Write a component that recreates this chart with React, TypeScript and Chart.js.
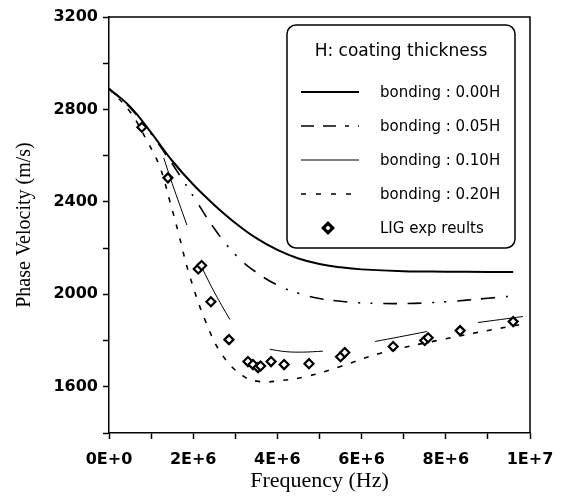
import React, { useEffect, useRef } from "react";
import { Chart, registerables } from "chart.js";
Chart.register(...registerables);

// ---- data ----
const freqB000 = [0, 0.5e6, 1e6, 1.5e6, 2e6, 2.5e6, 3e6, 3.5e6, 4e6, 4.5e6, 5e6, 5.5e6, 6e6, 7e6, 8e6, 9e6, 9.6e6];
const velB000 = [2890, 2812, 2700, 2578, 2475, 2387, 2309, 2243, 2192, 2155, 2131, 2117, 2108, 2100, 2098, 2097, 2097];

const freqB005 = [0, 0.5e6, 1e6, 1.5e6, 2e6, 2.5e6, 3e6, 3.5e6, 4e6, 4.5e6, 5e6, 5.5e6, 6e6, 7e6, 8e6, 9e6, 9.6e6];
const velB005 = [2890, 2808, 2695, 2565, 2425, 2285, 2172, 2095, 2040, 2005, 1982, 1970, 1963, 1960, 1968, 1983, 1993];

// 0.10H curve is drawn in separate pieces (null = gap)
const freqB010 = [1.3e6, 1.5e6, 1.85e6, 2.0e6, 2.23e6, 2.5e6, 2.87e6, 3.3e6, 3.82e6, 4.2e6, 4.6e6, 5.08e6, 5.7e6, 6.32e6, 6.9e6, 7.55e6, 8.2e6, 8.76e6, 9.3e6, 9.83e6];
const velB010 = [2590, 2480, 2300, null, 2107, 2010, 1891, null, 1762, 1752, 1750, 1754, null, 1796, 1816, 1839, null, 1878, 1891, 1904];

const freqB020 = [0, 0.5e6, 0.9e6, 1.2e6, 1.45e6, 1.65e6, 1.9e6, 2.3e6, 2.7e6, 3.2e6, 3.6e6, 4.0e6, 4.7e6, 5.5e6, 6.5e6, 7.9e6, 9.1e6, 9.8e6];
const velB020 = [2890, 2790, 2665, 2555, 2400, 2265, 2090, 1880, 1735, 1645, 1622, 1625, 1645, 1688, 1748, 1804, 1847, 1870];

const expFreq = [0.78e6, 1.4e6, 2.12e6, 2.2e6, 2.42e6, 2.85e6, 3.3e6, 3.42e6, 3.54e6, 3.6e6, 3.85e6, 4.16e6, 4.75e6, 5.5e6, 5.6e6, 6.75e6, 7.5e6, 7.58e6, 8.34e6, 9.6e6];
const expVel = [2723, 2504, 2110, 2125, 1968, 1804, 1709, 1696, 1683, 1690, 1709, 1696, 1700, 1730, 1748, 1774, 1800, 1812, 1843, 1882];

const xLabelValues = [0, 2e6, 4e6, 6e6, 8e6, 1e7];
const xTickLabels = ["0E+0", "2E+6", "4E+6", "6E+6", "8E+6", "1E+7"];
const yLabelValues = [1600, 2000, 2400, 2800, 3200];

const legendTitle = "H: coating thickness";
const legendLabels = ["bonding : 0.00H", "bonding : 0.05H", "bonding : 0.10H", "bonding : 0.20H", "LIG exp reults"];

const toPts = (xs: number[], ys: (number | null)[]) => xs.map((x, i) => ({ x, y: ys[i] }));

const DASH_005 = [14, 10, 14, 11, 2, 10, 2, 11];
const DASH_020 = [5, 9];

const framePlugin = {
  id: "frame",
  afterDraw(chart: any) {
    const { ctx, chartArea: ca } = chart;
    ctx.save();
    ctx.strokeStyle = "#000";
    ctx.lineWidth = 1.5;
    ctx.beginPath();
    ctx.moveTo(ca.left, ca.top);
    ctx.lineTo(ca.right, ca.top);
    ctx.lineTo(ca.right, ca.bottom);
    ctx.stroke();

    // legend box
    const bx = ca.right - 243;
    const by = ca.top + 8;
    const bw = 228;
    const bh = 223;
    ctx.lineWidth = 1.5;
    ctx.fillStyle = "#fff";
    ctx.beginPath();
    (ctx as any).roundRect(bx, by, bw, bh, 9);
    ctx.fill();
    ctx.stroke();

    ctx.fillStyle = "#000";
    ctx.textBaseline = "middle";
    ctx.textAlign = "center";
    ctx.font = "17px 'DejaVu Sans'";
    ctx.fillText(legendTitle, bx + bw / 2, by + 27);

    ctx.font = "15px 'DejaVu Sans'";
    ctx.textAlign = "left";
    const rowY0 = by + 67;
    const rowH = 34;
    const lx0 = bx + 14;
    const lx1 = bx + 72;
    const tx = bx + 93;
    const styles = [
      { w: 2, dash: [] as number[] },
      { w: 1.6, dash: [13, 9, 13, 9, 4, 9] },
      { w: 1, dash: [] as number[] },
      { w: 1.6, dash: [5, 10] },
    ];
    legendLabels.forEach((lab, i) => {
      const y = rowY0 + i * rowH;
      if (i < 4) {
        ctx.lineWidth = styles[i].w;
        ctx.setLineDash(styles[i].dash);
        ctx.beginPath();
        ctx.moveTo(lx0, y);
        ctx.lineTo(lx1, y);
        ctx.stroke();
        ctx.setLineDash([]);
      } else {
        const cx = (lx0 + lx1) / 2 - 2;
        ctx.beginPath();
        ctx.moveTo(cx, y - 7);
        ctx.lineTo(cx + 7, y);
        ctx.lineTo(cx, y + 7);
        ctx.lineTo(cx - 7, y);
        ctx.closePath();
        ctx.fillStyle = "#000";
        ctx.fill();
        ctx.beginPath();
        ctx.moveTo(cx, y - 2.5);
        ctx.lineTo(cx + 2.5, y);
        ctx.lineTo(cx, y + 2.5);
        ctx.lineTo(cx - 2.5, y);
        ctx.closePath();
        ctx.fillStyle = "#fff";
        ctx.fill();
        ctx.fillStyle = "#000";
      }
      ctx.fillText(lab, tx, y + 1);
    });
    ctx.restore();
  },
};

export default function App() {
  const ref = useRef<HTMLCanvasElement>(null);
  useEffect(() => {
    if (!ref.current) return;
    const yTickFont = { family: "'DejaVu Sans'", size: 16, weight: "bold" as const };
    const xTickFont = { family: "'DejaVu Sans'", size: 16, weight: "bold" as const, lineHeight: 1.6 };
    const lineDefaults = { borderColor: "#000", pointRadius: 0, tension: 0.4 };
    const chart = new Chart(ref.current, {
      type: "line",
      data: {
        datasets: [
          { ...lineDefaults, label: legendLabels[0], data: toPts(freqB000, velB000), borderWidth: 2 },
          { ...lineDefaults, label: legendLabels[1], data: toPts(freqB005, velB005), borderWidth: 1.6, borderDash: DASH_005 },
          { ...lineDefaults, label: legendLabels[2], data: toPts(freqB010, velB010), borderWidth: 1, spanGaps: false },
          { ...lineDefaults, label: legendLabels[3], data: toPts(freqB020, velB020), borderWidth: 1.6, borderDash: DASH_020 },
          {
            label: legendLabels[4],
            data: toPts(expFreq, expVel),
            showLine: false,
            pointStyle: "rectRot",
            pointRadius: 4.5,
            pointBorderWidth: 2.2,
            pointBorderColor: "#000",
            pointBackgroundColor: "#fff",
          },
        ],
      },
      options: {
        responsive: false,
        animation: false,
        devicePixelRatio: 1,
        layout: { padding: { left: 0, right: 32, top: 17, bottom: 0 } },
        plugins: { legend: { display: false }, tooltip: { enabled: false } },
        scales: {
          x: {
            type: "linear",
            min: 0,
            max: 1e7,
            afterFit: (s: any) => {
              s.height = 65;
            },
            ticks: {
              stepSize: 1e6,
              autoSkip: false,
              maxRotation: 0,
              color: "#000",
              padding: 8,
              font: xTickFont,
              callback: (v: any) => {
                const i = xLabelValues.findIndex((x) => Math.abs(x - Number(v)) < 1);
                return i >= 0 ? xTickLabels[i] : "";
              },
            },
            grid: { drawOnChartArea: false, drawTicks: true, tickLength: 6, tickColor: "#000", tickWidth: 1.5 },
            border: { display: true, color: "#000", width: 1.5 },
            title: {
              display: true,
              text: "Frequency (Hz)",
              color: "#000",
              font: { family: "'Liberation Serif'", size: 22 },
              padding: { top: 0, bottom: 4 },
            },
          },
          y: {
            type: "linear",
            min: 1400,
            max: 3200,
            afterFit: (s: any) => {
              s.width = 109;
            },
            ticks: {
              stepSize: 200,
              autoSkip: false,
              color: "#000",
              padding: 5,
              font: yTickFont,
              callback: (v: any) => (yLabelValues.includes(Number(v)) ? String(v) : ""),
            },
            grid: { drawOnChartArea: false, drawTicks: true, tickLength: 6, tickColor: "#000", tickWidth: 1.5 },
            border: { display: true, color: "#000", width: 1.5 },
            title: {
              display: true,
              text: "Phase Velocity (m/s)",
              color: "#000",
              font: { family: "'Liberation Serif'", size: 20 },
              padding: { top: 13, bottom: 0 },
            },
          },
        },
      },
      plugins: [framePlugin],
    } as any);
    return () => chart.destroy();
  }, []);
  return (
    <canvas
      ref={ref}
      width={562}
      height={498}
      style={{ position: "fixed", left: 0, top: 0, width: 562, height: 498, background: "#fff" }}
    />
  );
}
